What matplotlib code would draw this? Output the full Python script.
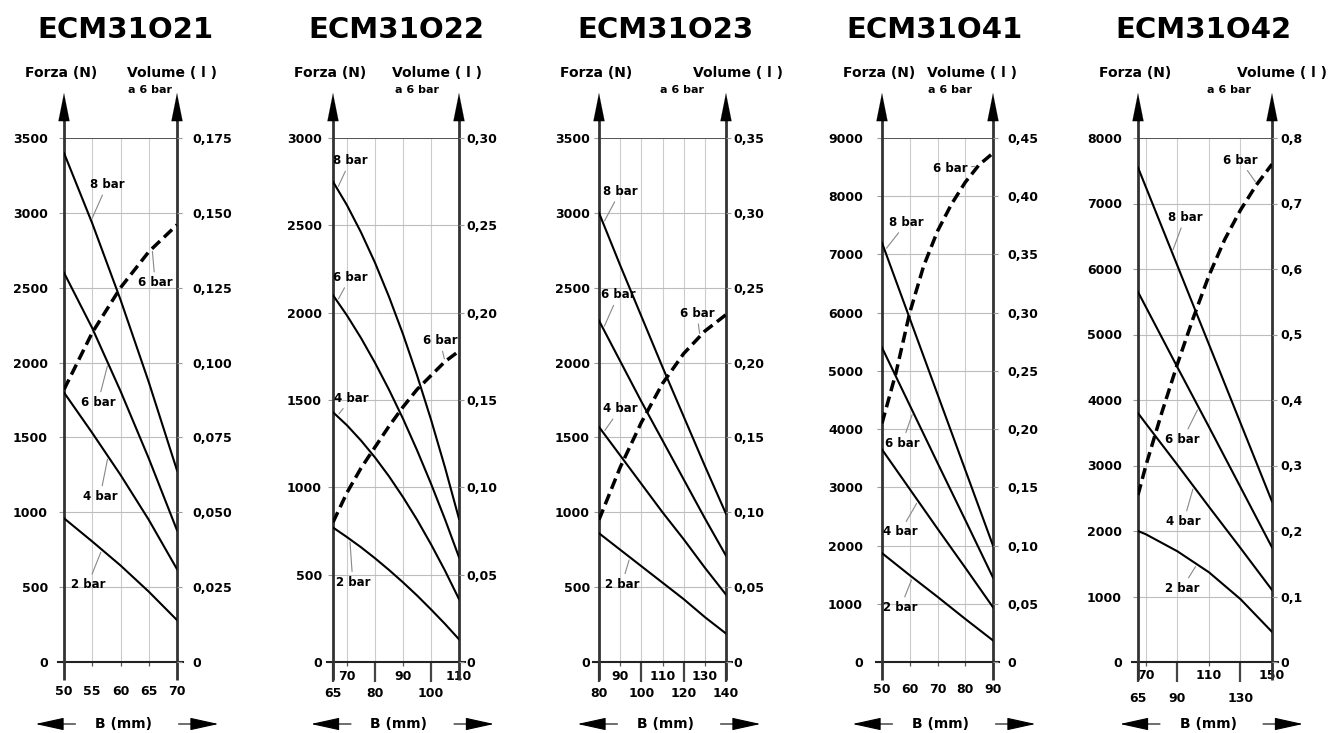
import numpy as np
import matplotlib
matplotlib.use('Agg')
import matplotlib.pyplot as plt

plt.rcParams['font.family'] = ['DejaVu Sans']

W, H = 1341, 733

# ---------------- data ----------------
titles = ["ECM31O21", "ECM31O22", "ECM31O23", "ECM31O41", "ECM31O42"]

# Panel 1 (ECM31O21)
p1_B = [50, 55, 60, 65, 70]
p1_f8 = [3400, 2930, 2420, 1870, 1280]
p1_f6 = [2600, 2230, 1810, 1360, 880]
p1_f4 = [1800, 1530, 1250, 950, 620]
p1_f2 = [960, 805, 645, 470, 280]
p1_Bv = [50, 55, 60, 65, 70]
p1_vol = [0.091, 0.110, 0.125, 0.137, 0.146]
p1_yticks = [0, 500, 1000, 1500, 2000, 2500, 3000, 3500]
p1_vticks = [0, 0.025, 0.050, 0.075, 0.100, 0.125, 0.150, 0.175]
p1_vlabels = ['0', '0,025', '0,050', '0,075', '0,100', '0,125', '0,150', '0,175']
p1_xrow1 = [50, 55, 60, 65, 70]
p1_xrow2 = []

# Panel 2 (ECM31O22)
p2_B = [65, 70, 75, 80, 85, 90, 95, 100, 105, 110]
p2_f8 = [2750, 2615, 2460, 2286, 2091, 1877, 1642, 1388, 1114, 820]
p2_f6 = [2100, 1984, 1855, 1713, 1559, 1393, 1213, 1021, 817, 600]
p2_f4 = [1430, 1355, 1268, 1171, 1063, 944, 815, 674, 523, 360]
p2_f2 = [770, 715, 657, 594, 527, 456, 381, 301, 218, 130]
p2_Bv = [65, 70, 75, 80, 85, 90, 95, 100, 105, 110]
p2_vol = [0.080, 0.097, 0.111, 0.123, 0.135, 0.146, 0.156, 0.164, 0.172, 0.178]
p2_yticks = [0, 500, 1000, 1500, 2000, 2500, 3000]
p2_vticks = [0, 0.05, 0.10, 0.15, 0.20, 0.25, 0.30]
p2_vlabels = ['0', '0,05', '0,10', '0,15', '0,20', '0,25', '0,30']
p2_xrow1 = [70, 90, 110]
p2_xrow2 = [65, 80, 100]

# Panel 3 (ECM31O23)
p3_B = [80, 90, 100, 110, 120, 130, 140]
p3_f8 = [3000, 2650, 2310, 1970, 1640, 1310, 990]
p3_f6 = [2280, 2010, 1740, 1480, 1220, 960, 710]
p3_f4 = [1570, 1380, 1190, 1000, 820, 630, 450]
p3_f2 = [860, 750, 640, 530, 420, 300, 190]
p3_Bv = [80, 90, 100, 110, 120, 130, 140]
p3_vol = [0.095, 0.130, 0.160, 0.186, 0.206, 0.221, 0.232]
p3_yticks = [0, 500, 1000, 1500, 2000, 2500, 3000, 3500]
p3_vticks = [0, 0.05, 0.10, 0.15, 0.20, 0.25, 0.30, 0.35]
p3_vlabels = ['0', '0,05', '0,10', '0,15', '0,20', '0,25', '0,30', '0,35']
p3_xrow1 = [90, 110, 130]
p3_xrow2 = [80, 100, 120, 140]

# Panel 4 (ECM31O41)
p4_B = [50, 60, 70, 80, 90]
p4_f8 = [7200, 5900, 4600, 3300, 2000]
p4_f6 = [5400, 4410, 3420, 2440, 1450]
p4_f4 = [3650, 2970, 2290, 1620, 940]
p4_f2 = [1870, 1490, 1120, 740, 370]
p4_Bv = [50, 55, 60, 65, 70, 75, 80, 85, 90]
p4_vol = [0.205, 0.248, 0.300, 0.340, 0.370, 0.393, 0.412, 0.427, 0.437]
p4_yticks = [0, 1000, 2000, 3000, 4000, 5000, 6000, 7000, 8000, 9000]
p4_vticks = [0, 0.05, 0.10, 0.15, 0.20, 0.25, 0.30, 0.35, 0.40, 0.45]
p4_vlabels = ['0', '0,05', '0,10', '0,15', '0,20', '0,25', '0,30', '0,35', '0,40', '0,45']
p4_xrow1 = [50, 60, 70, 80, 90]
p4_xrow2 = []

# Panel 5 (ECM31O42)
p5_B = [65, 70, 90, 110, 130, 150]
p5_f8 = [7550, 7250, 6050, 4850, 3650, 2450]
p5_f6 = [5650, 5420, 4500, 3590, 2670, 1750]
p5_f4 = [3800, 3640, 3010, 2370, 1740, 1100]
p5_f2 = [2000, 1950, 1690, 1370, 960, 460]
p5_Bv = [65, 70, 80, 90, 100, 110, 120, 130, 140, 150]
p5_vol = [0.255, 0.300, 0.380, 0.455, 0.525, 0.590, 0.645, 0.690, 0.728, 0.760]
p5_yticks = [0, 1000, 2000, 3000, 4000, 5000, 6000, 7000, 8000]
p5_vticks = [0, 0.1, 0.2, 0.3, 0.4, 0.5, 0.6, 0.7, 0.8]
p5_vlabels = ['0', '0,1', '0,2', '0,3', '0,4', '0,5', '0,6', '0,7', '0,8']
p5_xrow1 = [70, 110, 150]
p5_xrow2 = [65, 90, 130]

curve_names = ['8 bar', '6 bar', '4 bar', '2 bar']
vol_name = '6 bar'

panels = [
    dict(B=p1_B, F=[p1_f8, p1_f6, p1_f4, p1_f2], Bv=p1_Bv, V=p1_vol, yt=p1_yticks,
         vt=p1_vticks, vl=p1_vlabels, r1=p1_xrow1, r2=p1_xrow2),
    dict(B=p2_B, F=[p2_f8, p2_f6, p2_f4, p2_f2], Bv=p2_Bv, V=p2_vol, yt=p2_yticks,
         vt=p2_vticks, vl=p2_vlabels, r1=p2_xrow1, r2=p2_xrow2),
    dict(B=p3_B, F=[p3_f8, p3_f6, p3_f4, p3_f2], Bv=p3_Bv, V=p3_vol, yt=p3_yticks,
         vt=p3_vticks, vl=p3_vlabels, r1=p3_xrow1, r2=p3_xrow2),
    dict(B=p4_B, F=[p4_f8, p4_f6, p4_f4, p4_f2], Bv=p4_Bv, V=p4_vol, yt=p4_yticks,
         vt=p4_vticks, vl=p4_vlabels, r1=p4_xrow1, r2=p4_xrow2),
    dict(B=p5_B, F=[p5_f8, p5_f6, p5_f4, p5_f2], Bv=p5_Bv, V=p5_vol, yt=p5_yticks,
         vt=p5_vticks, vl=p5_vlabels, r1=p5_xrow1, r2=p5_xrow2),
]

# ---------------- layout (pixels) ----------------
TOP, ZERO = 138, 662
lefts = [64, 333, 599, 882, 1138]
rights = [177, 459, 726, 993, 1272]
lpad = [11, 6, 4, 14, 11]
rpad = [10, 2, 2, 9, 3]
vol_dx = [-50, -67, -33, -66, -35]
a6_dx = [-49, -64, -66, -65, -65]
title_cx = [125, 396, 665, 934, 1203]
row1_y = [692, 677, 677, 690, 676]
row2_y = [None, 694, 694, None, 699]

# label layout: (B on curve, dx px, dy px) order: 8,6,4,2 bar, dashed
label_layout = [
    [(54.8, 16, -36), (57.8, -10, 39), (57.8, -8, 40), (56.7, -14, 35), (65.6, 3, 34)],
    [(66.5, 13, -28), (66.5, 13, -24), (66.5, 14, -18), (71.0, 3, 43), (105.0, -5, -21)],
    [(82.0, 17, -32), (82.0, 15, -34), (82.0, 17, -24), (94.6, -8, 27), (127.7, -3, -23)],
    [(51.0, 22, -28), (61.2, -11, 31), (63.0, -18, 31), (61.0, -12, 30), (84.6, -28, 2)],
    [(86.6, 13, -35), (103.5, -16, 32), (100.3, -10, 35), (102.4, -15, 24), (140.5, -17, -24)],
]

PX = 0.72  # points per pixel at 100 dpi

fig = plt.figure(figsize=(W / 100, H / 100), dpi=100)
fig.patch.set_facecolor('white')

AX_H = ZERO - TOP
for i, P in enumerate(panels):
    L, R = lefts[i], rights[i]
    AW = R - L
    ax = fig.add_axes([L / W, 1 - ZERO / H, AW / W, AX_H / H])
    xmin, xmax = P['B'][0], P['B'][-1]
    ymax = P['yt'][-1]
    vmax = P['vt'][-1]
    ax.set_xlim(xmin, xmax)
    ax.set_ylim(0, ymax)
    ax.patch.set_alpha(0)
    for s in ax.spines.values():
        s.set_visible(False)
    ax2 = ax.twinx()
    ax2.set_ylim(0, vmax)
    for s in ax2.spines.values():
        s.set_visible(False)

    # left y ticks
    ax.set_yticks(P['yt'])
    ax.set_yticklabels([str(v) for v in P['yt']])
    ax.tick_params(axis='y', length=5 * PX, width=0.8, color='#999999',
                   pad=lpad[i] * PX, labelsize=9)
    for t in ax.get_yticklabels():
        t.set_fontweight('bold')
    ax.yaxis.grid(True, color='#bdbdbd', lw=0.8)

    # right y ticks
    ax2.set_yticks(P['vt'])
    ax2.set_yticklabels(P['vl'])
    ax2.tick_params(axis='y', length=5 * PX, width=0.8, color='#999999',
                    pad=rpad[i] * PX, labelsize=9)
    for t in ax2.get_yticklabels():
        t.set_fontweight('bold')

    # x ticks
    ax.set_xticks(P['r1'])
    ax.set_xticklabels([str(v) for v in P['r1']])
    maj_len = 4
    pad1 = (row1_y[i] - 5) - (ZERO + maj_len) - 2
    ax.tick_params(axis='x', which='major', length=maj_len * PX, width=0.9,
                   color='#555555', pad=pad1 * PX, labelsize=9)
    for t in ax.get_xticklabels():
        t.set_fontweight('bold')
    if P['r2']:
        ax.set_xticks(P['r2'], minor=True)
        ax.set_xticklabels([str(v) for v in P['r2']], minor=True)
        min_len = 20
        pad2 = (row2_y[i] - 5) - (ZERO + min_len) - 2
        ax.tick_params(axis='x', which='minor', length=min_len * PX, width=1.6,
                       color='#444444', pad=pad2 * PX, labelsize=9)
        for t in ax.get_xticklabels(minor=True):
            t.set_fontweight('bold')
    ax.xaxis.grid(True, which='both', color='#cccccc', lw=0.8)
    ax.set_axisbelow(True)

    # frame: top line, zero line, vertical axes with arrows
    ax.axhline(ymax, color='#555555', lw=1.4, zorder=2)
    ext = 6 / AW
    ax.plot([-ext, 1 + ext], [0, 0], transform=ax.transAxes, color='#222222',
            lw=1.5, clip_on=False, zorder=3)
    yb = -(680 - ZERO) / AX_H
    yt = (ZERO - 118) / AX_H
    ytip = (ZERO - 93) / AX_H
    for xa in (0, 1):
        ax.plot([xa, xa], [yb, yt], transform=ax.transAxes, color='#333333',
                lw=2.0, clip_on=False, zorder=3, solid_capstyle='butt')
        ax.annotate('', xy=(xa, ytip), xytext=(xa, yt - 0.01), xycoords='axes fraction',
                    textcoords='axes fraction',
                    arrowprops=dict(arrowstyle='-|>,head_length=1.0,head_width=0.2',
                                    mutation_scale=20, color='black', lw=0.1,
                                    shrinkA=0, shrinkB=0))

    # curves
    for F in P['F']:
        ax.plot(P['B'], F, color='black', lw=1.5, zorder=4)
    ax2.plot(P['Bv'], P['V'], color='black', lw=2.5, dashes=(3.2, 1.6), zorder=4)

    # curve labels
    lay = label_layout[i]
    for k, F in enumerate(P['F']):
        bc, dx, dy = lay[k]
        ax.annotate(curve_names[k], xy=(bc, np.interp(bc, P['B'], F)),
                    xytext=(dx * PX, -dy * PX), textcoords='offset points',
                    ha='center', va='center', fontsize=8.5, fontweight='bold',
                    arrowprops=dict(arrowstyle='-', color='#888888', lw=0.8,
                                    shrinkA=1, shrinkB=2), zorder=5)
    bc, dx, dy = lay[4]
    ax2.annotate(vol_name, xy=(bc, np.interp(bc, P['Bv'], P['V'])),
                 xytext=(dx * PX, -dy * PX), textcoords='offset points',
                 ha='center', va='center', fontsize=8.5, fontweight='bold',
                 arrowprops=dict(arrowstyle='-', color='#888888', lw=0.8,
                                 shrinkA=1, shrinkB=2), zorder=5)

    # top labels
    fig.text((L - 3) / W, 1 - 73 / H, 'Forza (N)', ha='center', va='center',
             fontsize=10, fontweight='bold')
    fig.text((R + vol_dx[i]) / W, 1 - 73 / H, 'Volume ( l )', ha='left', va='center',
             fontsize=10, fontweight='bold')
    fig.text((R + a6_dx[i]) / W, 1 - 90 / H, 'a 6 bar', ha='left', va='center',
             fontsize=8, fontweight='bold')

    # title
    fig.text(title_cx[i] / W, 1 - 30 / H, titles[i], ha='center', va='center',
             fontsize=21, fontweight='bold')

    # bottom axis name with arrows
    cx = (L + R) / 2 + 3
    yb_px = H - 724
    fig.text(cx / W, yb_px / H, 'B (mm)', ha='center', va='center',
             fontsize=10, fontweight='bold')
    for tip, tail in ((cx - 88, cx - 48), (cx + 95, cx + 55)):
        fig.patches.append(matplotlib.patches.FancyArrowPatch(
            (tail / W, yb_px / H), (tip / W, yb_px / H), transform=fig.transFigure,
            arrowstyle='-|>,head_length=1.0,head_width=0.22', mutation_scale=18,
            color='black', lw=0.8, shrinkA=0, shrinkB=0))

fig.savefig('out.png', dpi=100, facecolor='white')
